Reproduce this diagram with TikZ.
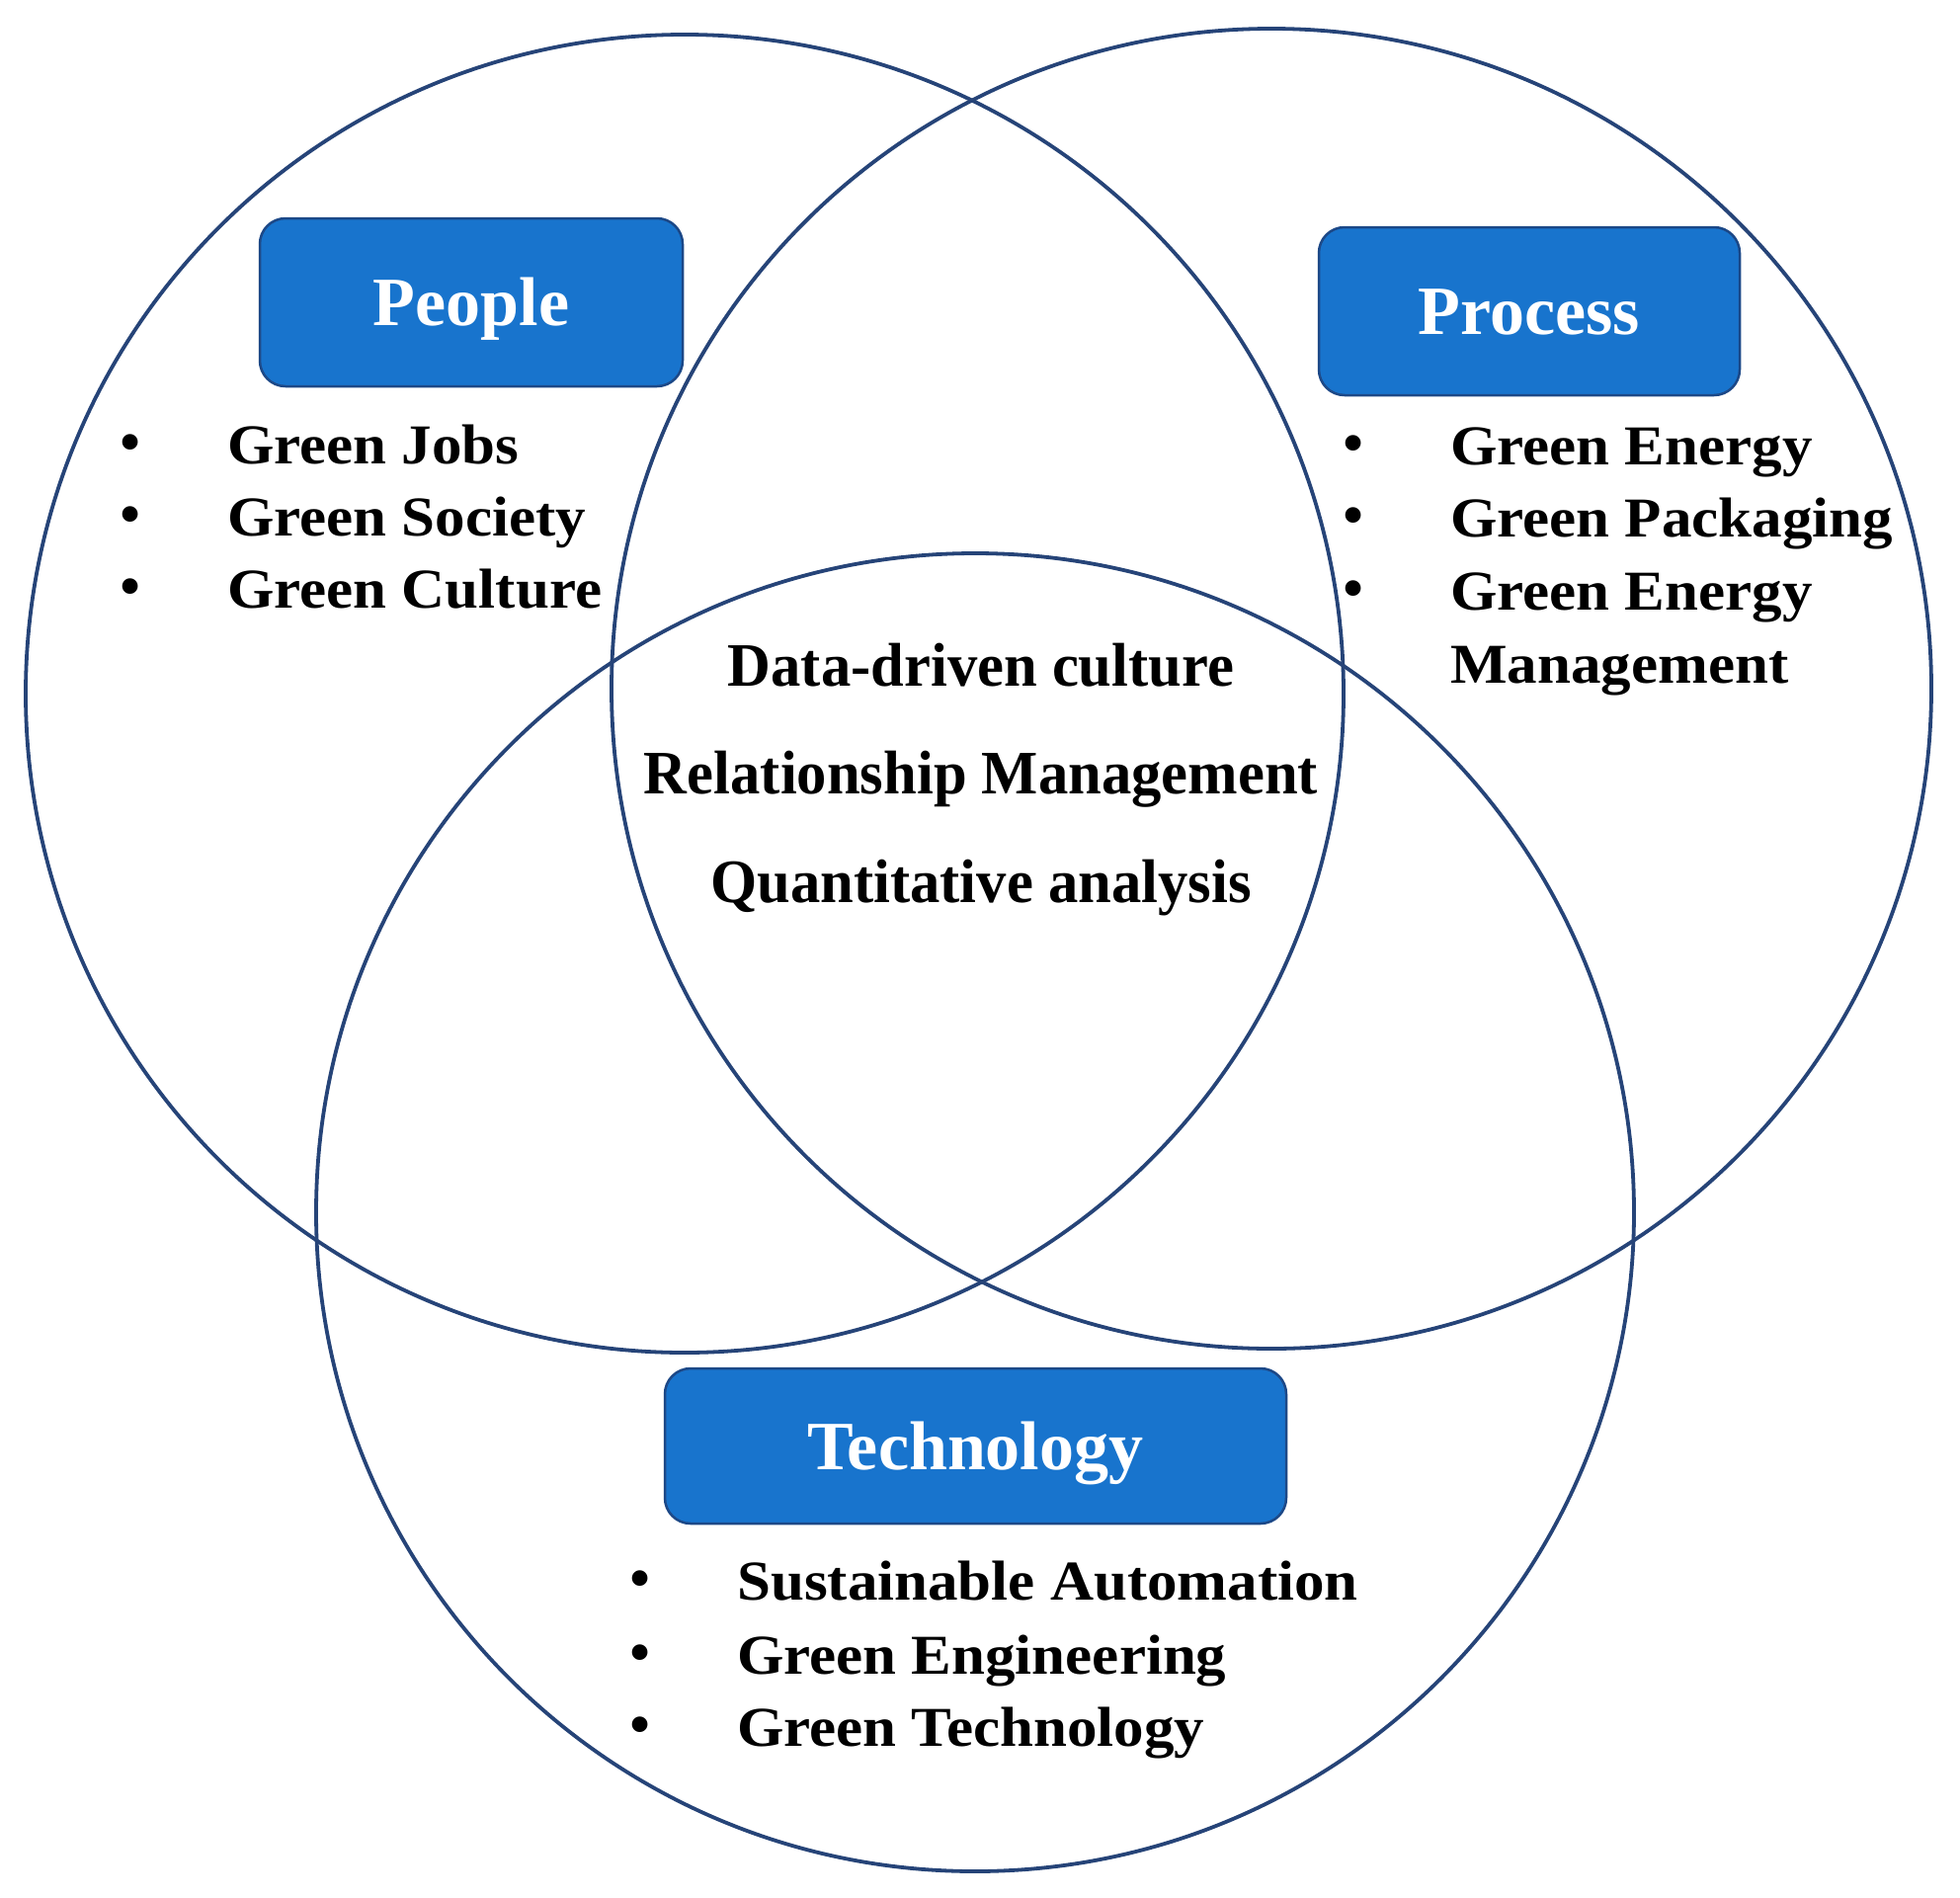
\documentclass[tikz,border=0pt]{standalone}
\usepackage{fontspec}
\setmainfont{Liberation Serif}
\newfontfamily\bodyfont[FakeStretch=1.07]{Liberation Serif Bold}
\newfontfamily\corefont[FakeStretch=0.97]{Liberation Serif Bold}
\definecolor{ringcol}{RGB}{38,68,120}
\definecolor{boxfill}{RGB}{24,116,205}
\definecolor{boxline}{RGB}{28,72,135}
\tikzset{
  ringline/.style={draw=ringcol, line width=3.8pt},
  titlebox/.style={draw=boxline, line width=2.5pt, fill=boxfill, rounded corners=26pt,
    text=white, font=\fontsize{70}{80}\selectfont\bfseries, inner sep=0pt,
    text height=47pt, text depth=0pt},
  item/.style={anchor=base west, inner sep=0pt, font=\bodyfont\fontsize{57}{64}\selectfont},
  dotmark/.style={anchor=base, inner sep=0pt, font=\fontsize{66}{70}\selectfont},
  core/.style={anchor=base, inner sep=0pt, font=\corefont\fontsize{62.5}{70}\selectfont},
}
\begin{document}
\begin{tikzpicture}[x=1pt,y=-1pt]
\useasboundingbox[fill=white] (0,0) rectangle (1984,1920);
% circles
\draw[ringline] (693,702) circle[radius=667pt];
\draw[ringline] (1287,697) circle[radius=668pt];
\draw[ringline] (987,1227) circle[radius=667pt];
% title boxes
\node[titlebox, minimum width=428pt, minimum height=170pt] (people) at (477,306) {People};
\node[titlebox, minimum width=426pt, minimum height=170pt] (process) at (1548,315) {Process};
\node[titlebox, minimum width=629pt, minimum height=157pt] (technology) at (987.5,1463.5) {Technology};
% people items
\node[dotmark] (pd1) at (132,469) {•};
\node[dotmark] (pd2) at (132,542) {•};
\node[dotmark] (pd3) at (132,615) {•};
\node[item] (pt1) at (230,469) {Green Jobs};
\node[item] (pt2) at (230,542) {Green Society};
\node[item] (pt3) at (230,615) {Green Culture};
% process items
\node[dotmark] (qd1) at (1370,470) {•};
\node[dotmark] (qd2) at (1370,543) {•};
\node[dotmark] (qd3) at (1370,617) {•};
\node[item] (qt1) at (1468,470) {Green Energy};
\node[item] (qt2) at (1468,543) {Green Packaging};
\node[item] (qt3) at (1468,617) {Green Energy};
\node[item] (qt4) at (1468,691) {Management};
% technology items
\node[dotmark] (td1) at (648,1619) {•};
\node[dotmark] (td2) at (648,1694) {•};
\node[dotmark] (td3) at (648,1767) {•};
\node[item] (tt1) at (746,1619) {Sustainable Automation};
\node[item] (tt2) at (746,1694) {Green Engineering};
\node[item] (tt3) at (746,1767) {Green Technology};
% centre
\node[core] (c1) at (993,694) {Data-driven culture};
\node[core] (c2) at (993,803) {Relationship Management};
\node[core] (c3) at (993,913) {Quantitative analysis};
\end{tikzpicture}
\end{document}
